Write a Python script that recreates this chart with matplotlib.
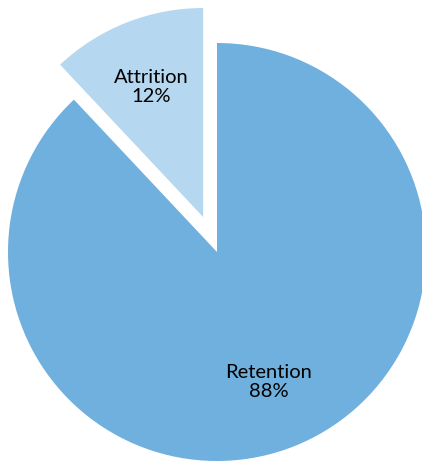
import matplotlib.pyplot as plt

labels = ['Retention', 'Attrition']
values = [88, 12]
colors = ['#70b0de', '#b5d7f0']
explode = [0, 0.18]

fig = plt.figure(figsize=(4.22, 4.63), dpi=100)
ax = fig.add_axes([0, 0, 1, 1])

wedges, texts, autotexts = ax.pie(values, colors=colors, explode=explode,
                                  startangle=90, counterclock=False,
                                  autopct='%1.0f%%', pctdistance=0.67,
                                  textprops={'fontsize': 14.5, 'family': 'Lato', 'color': 'black'})
for lab, t in zip(labels, autotexts):
    t.set_text(lab + '\n' + t.get_text())
    t.set_linespacing(1.15)

# place the pie like the original (radius 1 = 209 px)
ax.set_xlim(-217 / 209, 205 / 209)
ax.set_ylim(-211 / 209, 252 / 209)
ax.set_aspect('equal')
ax.axis('off')

fig.savefig('out.png', dpi=100)
